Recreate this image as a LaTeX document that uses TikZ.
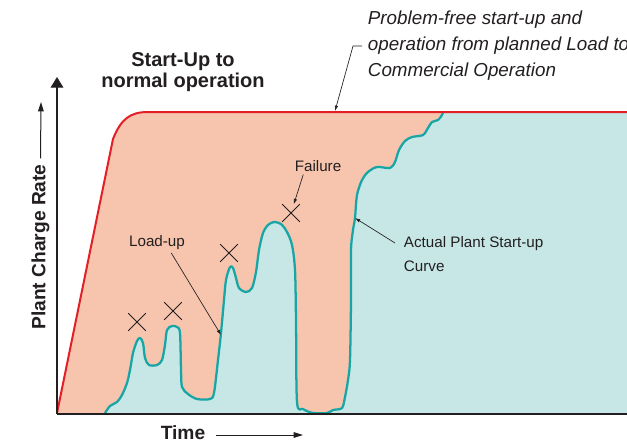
\documentclass[tikz,border=0pt]{standalone}
\usepackage{fontspec}
\setmainfont{Liberation Sans}
\usetikzlibrary{shapes.misc}
\usetikzlibrary{arrows.meta}
\usetikzlibrary{calc}

\definecolor{salmonfill}{HTML}{F7C5AE}
\definecolor{tealfill}{HTML}{C6E7E5}
\definecolor{tealline}{HTML}{17A5A5}
\definecolor{planred}{HTML}{E41E26}
\definecolor{inkgray}{HTML}{231F20}

\newcommand\planline{(57,413) -- (113,139) .. controls (121,119) and (130,112) .. (148,112) -- (627,112)}
\newcommand\actualcurve{plot[smooth, tension=0.5] coordinates {
  (105,413) (110,406) (117,402) (122,395) (127,383) (130,370) (133,353) (137,341)
  (140,338) (143,343) (145,358) (149,365) (157,365) (162,360) (165,345) (167,330)
  (172,326) (177,327) (180,333) (181,370) (182,387) (188,394) (197,399) (210,399)
  (214,393) (218,360) (221,333) (224,300) (226,280) (230,267) (233,268) (236,278)
  (239,288) (246,292) (252,288) (256,272) (259,250) (263,233) (268,225) (274,222)
  (281,224) (287,232) (292,245) (295,270) (296,320) (297,402) (303,409) (313,413)
  (327,413) (333,410) (342,408) (345,397) (348,380) (350,360) (351,300) (351,250)
  (353,230) (355,218) (357,195) (362,180) (368,172) (377,167) (390,168) (395,162)
  (399,150) (405,141) (412,137) (423,135) (428,128) (432,122) (438,120) (442,115)
  (443,112)}}

\begin{document}
\begin{tikzpicture}[x=0.75pt ,y=-0.75pt ,
    label/.style ={text=inkgray ,font=\fontsize{11.4}{17.3}\selectfont ,align=left ,inner sep=2pt},
    heading/.style ={text=inkgray ,font=\fontsize{15}{15.5}\selectfont\bfseries ,align=center},
    axislabel/.style ={text=inkgray ,font=\fontsize{14.4}{17}\selectfont\bfseries ,inner sep=2pt},
    note/.style ={text=inkgray ,font=\fontsize{14.1}{19.5}\selectfont\itshape ,align=left ,inner sep=2pt},
    fault/.style ={cross out ,draw=inkgray ,line width=0.7pt ,minimum size=12.5pt ,inner sep=0pt},
    leader/.style ={draw=inkgray ,line width=0.5pt ,-{Latex[length=4pt,width=2.6pt]}},
    smallarrow/.style ={draw=inkgray ,line width=0.75pt ,-{Triangle[length=7pt,width=4.2pt]}},
    axis/.style ={draw=inkgray ,line width=1pt}]
    \useasboundingbox (0,0) rectangle (627,444);

    % areas
    \fill[salmonfill] \planline -- (627,413) -- cycle;
    \fill[tealfill] \actualcurve -- (627,112) -- (627,413) -- cycle;
    \draw[tealline ,line width=1.7pt ,line join=round] \actualcurve;
    \draw[planred ,line width=1.5pt ,line join=round] \planline;

    % axes
    \coordinate (origin) at (57,414);
    \coordinate (ytop) at (57,77);
    \coordinate (xend) at (627,414);
    \draw[axis ,-{Triangle[length=8pt,width=9.5pt]}] (origin) -- (ytop);
    \draw[axis] (origin) -- (xend);

    % failures
    \foreach \name/\pos in {xa/{(137,322)}, xb/{(173,311)}, xc/{(229,253)}, xd/{(291,213)}}
      \node[fault] (\name) at \pos {};

    \node[heading] (title) at (183,72) {Start-Up to\\normal operation};
    \node[axislabel ,rotate=90] (ylabel) at (40.5,247) {Plant Charge Rate};
    \coordinate (ytip) at (41,102);
    \draw[smallarrow] (ylabel.east) ++(0,-3) -- (ytip);
    \node[axislabel] (time) at (183,433) {Time};
    \coordinate (ttip) at (303,435);
    \draw[smallarrow] (time.east) ++(8,2) -- (ttip);

    \node[note ,anchor=west] (problem) at (365,46) {Problem-free start-up and\\operation from planned Load to\\Commercial Operation};
    \coordinate (plantip) at (335,111);
    \draw[leader] (problem.west) ++(-3,0) -- ++(-9,0) -- (plantip);

    \node[label] (failure) at (318,166) {Failure};
    \draw[leader] (failure.210) -- (xd);

    \node[label] (loadup) at (157,243) {Load-up};
    \coordinate (loadtip) at (221,335);
    \draw[leader] (loadup.325) -- (loadtip);

    \node[label ,anchor=north west] (actual) at (401,234) {Actual Plant Start-up\\Curve};
    \coordinate (actualtip) at (355,218);
    \draw[leader] ($(actual.north west)+(-6,9)$) -- (actualtip);

\end{tikzpicture}
\end{document}
